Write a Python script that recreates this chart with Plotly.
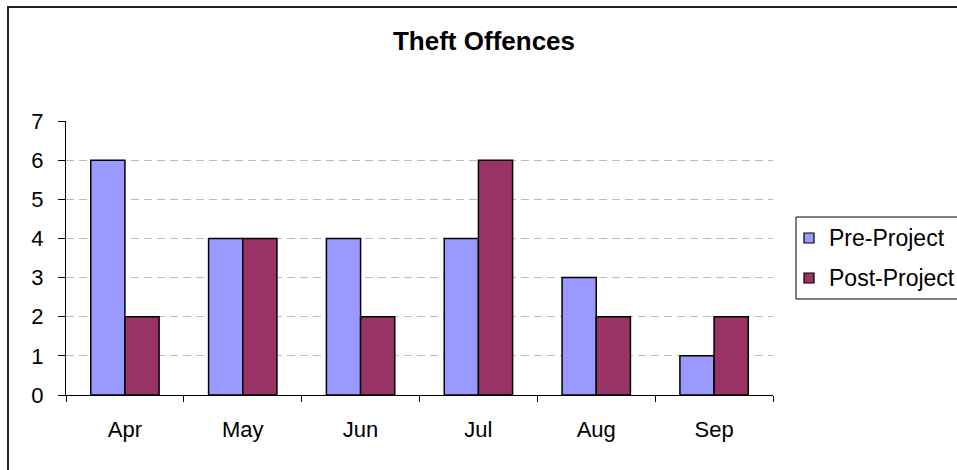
import plotly.graph_objects as go

# Monthly theft offence counts, before and after the project
months = ["Apr", "May", "Jun", "Jul", "Aug", "Sep"]
pre_project = [6, 4, 4, 4, 3, 1]
post_project = [2, 4, 2, 6, 2, 2]
y_ticks = [0, 1, 2, 3, 4, 5, 6, 7]
series_names = ["Pre-Project", "Post-Project"]
series_colors = ["#9999FF", "#993366"]

W, H = 957, 470
L, R, T, B = 66, 773, 121, 395  # plot area in pixels


def px_x(x):
    return (x - L) / (R - L)


def px_y(y):
    return (B - y) / (B - T)


FONT = "Liberation Sans, Arial, sans-serif"

fig = go.Figure()
for name, vals, col in zip(series_names, [pre_project, post_project], series_colors):
    fig.add_trace(go.Bar(
        x=months, y=vals, name=name,
        marker=dict(color=col, line=dict(color="black", width=1.5)),
    ))

# Legend drawn as a framed box with swatches and labels
shapes = [
    # outer chart frame
    dict(type="rect", xref="paper", yref="paper",
         x0=px_x(8), x1=px_x(965), y0=px_y(480), y1=px_y(7),
         line=dict(color="#222222", width=2), layer="below"),
    # legend frame
    dict(type="rect", xref="paper", yref="paper",
         x0=px_x(796), x1=px_x(965), y0=px_y(299), y1=px_y(217),
         line=dict(color="black", width=1)),
]
annotations = []
for i, (name, col) in enumerate(zip(series_names, series_colors)):
    cy = 238 + 40 * i
    shapes.append(dict(type="rect", xref="paper", yref="paper",
                       x0=px_x(804), x1=px_x(814), y0=px_y(cy + 5), y1=px_y(cy - 5),
                       fillcolor=col, line=dict(color="black", width=1.2)))
    annotations.append(dict(text=name, xref="paper", yref="paper",
                            x=px_x(827), y=px_y(cy), xanchor="left", yanchor="middle",
                            showarrow=False, font=dict(size=23, family=FONT, color="black")))

fig.update_layout(
    width=W, height=H,
    margin=dict(l=L, r=W - R, t=T, b=H - B, pad=0),
    paper_bgcolor="white", plot_bgcolor="white",
    font=dict(family=FONT, size=22, color="black"),
    barmode="group", bargap=0.42, bargroupgap=0,
    title=dict(text="<b>Theft Offences</b>", x=px_x(484), xref="paper",
               xanchor="center", y=1 - 41 / H, yanchor="middle",
               font=dict(size=26, family=FONT, color="black")),
    showlegend=False,
    xaxis=dict(showline=True, linecolor="black", linewidth=1,
               ticks="outside", ticklen=6, tickcolor="black",
               tickson="boundaries", showgrid=False,
               ticklabelstandoff=15),
    yaxis=dict(range=[0, 7], tickvals=y_ticks, showline=True,
               linecolor="black", linewidth=1, ticks="outside", ticklen=7,
               tickcolor="black", showgrid=True, gridcolor="#BDBDBD",
               griddash="8px,5px", gridwidth=1, zeroline=False,
               ticklabelstandoff=10),
    shapes=shapes,
    annotations=annotations,
)

fig.write_html("out.html")
